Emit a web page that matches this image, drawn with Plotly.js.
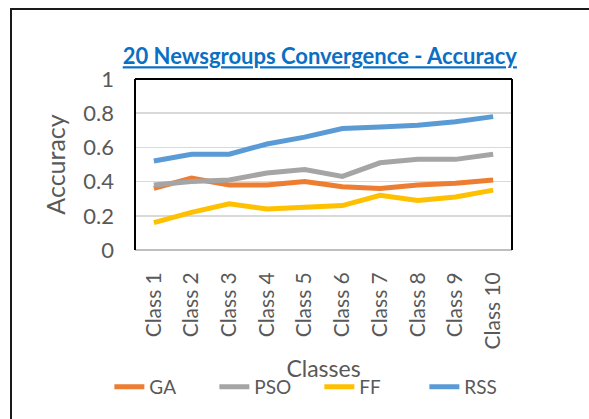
<!DOCTYPE html>
<html>
<head>
<meta charset="utf-8">
<script src="https://cdn.plot.ly/plotly-3.0.1.min.js"></script>
<style>
  html, body { margin: 0; padding: 0; background: #ffffff; overflow: hidden; }
  #frame { position: absolute; left: 10px; top: 8px; width: 620px; height: 440px; border: 2px solid #1a1a1a; box-sizing: border-box; }
  #chart { position: absolute; left: 0; top: 0; width: 589px; height: 419px; }
</style>
</head>
<body>
<div id="frame"></div>
<div id="chart"></div>
<script>
const categories = ["Class 1", "Class 2", "Class 3", "Class 4", "Class 5", "Class 6", "Class 7", "Class 8", "Class 9", "Class 10"];
const seriesNames = ["GA", "PSO", "FF", "RSS"];
const gaValues  = [0.36, 0.42, 0.38, 0.38, 0.40, 0.37, 0.36, 0.38, 0.39, 0.41];
const psoValues = [0.38, 0.40, 0.41, 0.45, 0.47, 0.43, 0.51, 0.53, 0.53, 0.56];
const ffValues  = [0.16, 0.22, 0.27, 0.24, 0.25, 0.26, 0.32, 0.29, 0.31, 0.35];
const rssValues = [0.52, 0.56, 0.56, 0.62, 0.66, 0.71, 0.72, 0.73, 0.75, 0.78];
const yTickValues = [0, 0.2, 0.4, 0.6, 0.8, 1];
const yTickLabels = ["0", "0.2", "0.4", "0.6", "0.8", "1"];

const colors = ["#ED7D31", "#A5A5A5", "#FFC000", "#5B9BD5"];
const allValues = [gaValues, psoValues, ffValues, rssValues];
const FONT = "Lato, 'Open Sans', sans-serif";

const traces = seriesNames.map((name, i) => ({
  type: "scatter",
  mode: "lines",
  name: name,
  x: categories,
  y: allValues[i],
  line: { color: colors[i], width: 5 },
  hoverinfo: "skip"
}));

const layout = {
  width: 589,
  height: 419,
  margin: { l: 135, r: 77, t: 79, b: 169 },
  paper_bgcolor: "rgba(0,0,0,0)",
  plot_bgcolor: "#ffffff",
  font: { family: FONT, color: "#595959" },
  title: {
    text: '<span style="text-decoration:underline"><b>20 Newsgroups Convergence - Accuracy</b></span>',
    font: { family: FONT, size: 22, color: "#0B6FC4" },
    x: 0.543, xanchor: "center",
    y: 0.865, yanchor: "middle"
  },
  xaxis: {
    type: "category",
    tickangle: -90,
    tickfont: { family: FONT, size: 21, color: "#595959" },
    showgrid: false,
    showline: false,
    ticks: "",
    ticklabelstandoff: 17,
    title: { text: "Classes", font: { family: FONT, size: 23, color: "#595959" }, standoff: 12 },
    range: [-0.5, 9.5],
    fixedrange: true
  },
  yaxis: {
    range: [0, 1],
    tickvals: yTickValues,
    ticktext: yTickLabels,
    tickfont: { family: FONT, size: 22, color: "#595959" },
    gridcolor: "#D9D9D9",
    gridwidth: 1.5,
    zeroline: false,
    showline: false,
    ticks: "",
    ticklabelstandoff: 20,
    title: { text: "Accuracy", font: { family: FONT, size: 25, color: "#595959" }, standoff: 10 },
    fixedrange: true
  },
  legend: {
    orientation: "h",
    x: -0.068, xanchor: "left",
    y: -0.8, yanchor: "middle",
    font: { family: FONT, size: 19, color: "#595959" },
    itemwidth: 30,
    entrywidth: 60,
    entrywidthmode: "pixels",
    bgcolor: "rgba(0,0,0,0)"
  },
  shapes: [
    { type: "line", xref: "paper", yref: "paper", x0: 0, x1: 1, y0: 0, y1: 0, line: { color: "#BFBFBF", width: 2 }, layer: "above" },
    { type: "line", xref: "paper", yref: "paper", x0: 0, x1: 0, y0: 0, y1: 1, line: { color: "#000000", width: 2 }, layer: "above" },
    { type: "line", xref: "paper", yref: "paper", x0: 1, x1: 1, y0: 0, y1: 1, line: { color: "#000000", width: 2 }, layer: "above" },
    { type: "line", xref: "paper", yref: "paper", x0: 0, x1: 1, y0: 1, y1: 1, line: { color: "#000000", width: 2 }, layer: "above" }
  ],
  showlegend: true
};

Plotly.newPlot("chart", traces, layout, { displayModeBar: false, staticPlot: true });
</script>
</body>
</html>
